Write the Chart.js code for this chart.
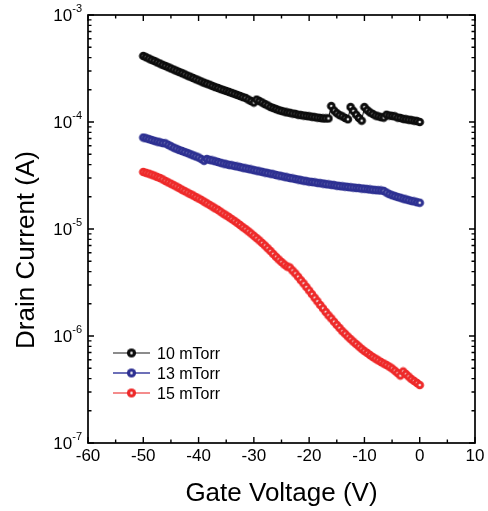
<!DOCTYPE html>
<html>
<head>
<meta charset="utf-8">
<script src="https://cdn.jsdelivr.net/npm/chart.js@4.4.1/dist/chart.umd.min.js"></script>
<style>
  html, body { margin: 0; padding: 0; background: #fff; }
  #wrap { width: 488px; height: 511px; }
</style>
</head>
<body>
<div id="wrap"><canvas id="chart" width="488" height="511"></canvas></div>
<script>
// gate sweep (V)
const gateVoltage = [
  -50, -49.5, -49, -48.5, -48, -47.5, -47, -46.5, -46, -45.5, -45, -44.5, -44, -43.5, -43, -42.5, -42, -41.5, -41, -40.5, -40,
  -39.5, -39, -38.5, -38, -37.5, -37, -36.5, -36, -35.5, -35, -34.5, -34, -33.5, -33, -32.5, -32, -31.5, -31, -30.5, -30,
  -29.5, -29, -28.5, -28, -27.5, -27, -26.5, -26, -25.5, -25, -24.5, -24, -23.5, -23, -22.5, -22, -21.5, -21, -20.5, -20,
  -19.5, -19, -18.5, -18, -17.5, -17, -16.5, -16, -15.5, -15, -14.5, -14, -13.5, -13, -12.5, -12, -11.5, -11, -10.5, -10,
  -9.5, -9, -8.5, -8, -7.5, -7, -6.5, -6, -5.5, -5, -4.5, -4, -3.5, -3, -2.5, -2, -1.5, -1, -0.5, 0
];

// drain current (A)
const current10 = [
  4.14e-4, 4.03e-4, 3.92e-4, 3.81e-4, 3.72e-4, 3.61e-4, 3.52e-4, 3.42e-4, 3.34e-4, 3.25e-4, 3.17e-4, 3.09e-4, 3.01e-4, 2.93e-4, 2.86e-4, 2.79e-4, 2.71e-4, 2.65e-4, 2.58e-4, 2.51e-4, 2.45e-4,
  2.39e-4, 2.33e-4, 2.28e-4, 2.23e-4, 2.17e-4, 2.12e-4, 2.08e-4, 2.03e-4, 1.99e-4, 1.95e-4, 1.91e-4, 1.87e-4, 1.83e-4, 1.79e-4, 1.75e-4, 1.71e-4, 1.68e-4, 1.62e-4, 1.57e-4, 1.52e-4,
  1.62e-4, 1.57e-4, 1.52e-4, 1.47e-4, 1.43e-4, 1.38e-4, 1.35e-4, 1.32e-4, 1.29e-4, 1.27e-4, 1.25e-4, 1.23e-4, 1.22e-4, 1.20e-4, 1.19e-4, 1.17e-4, 1.16e-4, 1.15e-4, 1.14e-4, 1.13e-4,
  1.12e-4, 1.11e-4, 1.10e-4, 1.09e-4, 1.08e-4, 1.08e-4, 1.08e-4, 1.41e-4, 1.28e-4, 1.21e-4, 1.16e-4, 1.13e-4, 1.09e-4, 1.06e-4, 1.38e-4, 1.27e-4, 1.17e-4, 1.09e-4, 1.03e-4, 1.38e-4,
  1.29e-4, 1.23e-4, 1.19e-4, 1.15e-4, 1.13e-4, 1.11e-4, 1.10e-4, 1.17e-4, 1.15e-4, 1.14e-4, 1.13e-4, 1.10e-4, 1.09e-4, 1.07e-4, 1.06e-4, 1.05e-4, 1.04e-4, 1.03e-4, 1.02e-4, 1.00e-4
];
const current13 = [
  7.16e-5, 7.04e-5, 6.92e-5, 6.79e-5, 6.67e-5, 6.56e-5, 6.46e-5, 6.36e-5, 6.32e-5, 6.12e-5, 5.94e-5, 5.76e-5, 5.62e-5, 5.47e-5, 5.36e-5, 5.24e-5, 5.13e-5, 5.00e-5, 4.88e-5, 4.77e-5, 4.66e-5,
  4.51e-5, 4.34e-5, 4.51e-5, 4.43e-5, 4.37e-5, 4.30e-5, 4.23e-5, 4.16e-5, 4.09e-5, 4.03e-5, 3.98e-5, 3.94e-5, 3.89e-5, 3.84e-5, 3.79e-5, 3.74e-5, 3.69e-5, 3.65e-5, 3.60e-5, 3.55e-5,
  3.51e-5, 3.46e-5, 3.42e-5, 3.37e-5, 3.33e-5, 3.29e-5, 3.25e-5, 3.20e-5, 3.16e-5, 3.12e-5, 3.08e-5, 3.04e-5, 3.00e-5, 2.97e-5, 2.93e-5, 2.90e-5, 2.86e-5, 2.83e-5, 2.80e-5, 2.77e-5,
  2.75e-5, 2.73e-5, 2.70e-5, 2.68e-5, 2.66e-5, 2.63e-5, 2.61e-5, 2.59e-5, 2.57e-5, 2.54e-5, 2.52e-5, 2.50e-5, 2.49e-5, 2.47e-5, 2.45e-5, 2.44e-5, 2.42e-5, 2.41e-5, 2.39e-5, 2.38e-5,
  2.36e-5, 2.34e-5, 2.33e-5, 2.31e-5, 2.30e-5, 2.29e-5, 2.27e-5, 2.19e-5, 2.12e-5, 2.07e-5, 2.03e-5, 1.99e-5, 1.96e-5, 1.92e-5, 1.89e-5, 1.86e-5, 1.83e-5, 1.81e-5, 1.78e-5, 1.76e-5
];
const current15 = [
  3.41e-5, 3.35e-5, 3.29e-5, 3.22e-5, 3.15e-5, 3.07e-5, 3.00e-5, 2.91e-5, 2.81e-5, 2.73e-5, 2.65e-5, 2.57e-5, 2.49e-5, 2.41e-5, 2.33e-5, 2.26e-5, 2.19e-5, 2.12e-5, 2.06e-5, 1.99e-5, 1.93e-5,
  1.87e-5, 1.80e-5, 1.74e-5, 1.68e-5, 1.62e-5, 1.56e-5, 1.51e-5, 1.45e-5, 1.39e-5, 1.34e-5, 1.29e-5, 1.24e-5, 1.19e-5, 1.14e-5, 1.09e-5, 1.04e-5, 9.98e-6, 9.52e-6, 9.08e-6, 8.64e-6,
  8.22e-6, 7.81e-6, 7.40e-6, 7.01e-6, 6.61e-6, 6.23e-6, 5.85e-6, 5.50e-6, 5.19e-6, 4.92e-6, 4.66e-6, 4.46e-6, 4.37e-6, 4.09e-6, 3.84e-6, 3.58e-6, 3.32e-6, 3.10e-6, 2.87e-6, 2.66e-6,
  2.46e-6, 2.28e-6, 2.11e-6, 1.95e-6, 1.81e-6, 1.68e-6, 1.56e-6, 1.46e-6, 1.36e-6, 1.27e-6, 1.19e-6, 1.11e-6, 1.05e-6, 9.89e-7, 9.36e-7, 8.85e-7, 8.40e-7, 7.98e-7, 7.59e-7, 7.24e-7,
  6.94e-7, 6.64e-7, 6.38e-7, 6.14e-7, 5.92e-7, 5.71e-7, 5.53e-7, 5.36e-7, 5.17e-7, 4.97e-7, 4.74e-7, 4.51e-7, 4.27e-7, 4.66e-7, 4.41e-7, 4.18e-7, 3.96e-7, 3.80e-7, 3.64e-7, 3.48e-7
];

const seriesNames = ["10 mTorr", "13 mTorr", "15 mTorr"];
const xTicks = [-60, -50, -40, -30, -20, -10, 0, 10];
const yTickExps = [-3, -4, -5, -6, -7];

const FONT = "'Liberation Sans', Arial, sans-serif";

// little shaded ball like the origin markers
function sphere(color, r) {
  const c = document.createElement("canvas");
  const s = Math.ceil(r * 2) + 1;
  c.width = c.height = s;
  const g = c.getContext("2d");
  const m = s / 2;
  const grad = g.createRadialGradient(m, m, 0, m, m, r);
  grad.addColorStop(0, "#ffffff");
  grad.addColorStop(0.16, "#eeeeee");
  grad.addColorStop(0.4, color);
  grad.addColorStop(1, color);
  g.fillStyle = grad;
  g.beginPath();
  g.arc(m, m, r, 0, Math.PI * 2);
  g.fill();
  return c;
}

const markerColors = ["#0d0d0d", "#2e3192", "#ee2a2a"];
const lineColors = ["#666666", "#3c40a0", "#f06666"];
const seriesValues = [current10, current13, current15];

const datasets = seriesValues.map((vals, i) => ({
  label: seriesNames[i],
  data: gateVoltage.map((v, k) => ({ x: v, y: vals[k] })),
  showLine: true,
  borderColor: markerColors[i],
  borderWidth: 1,
  pointStyle: sphere(markerColors[i], 4.3),
  pointRadius: 4.3,
  clip: false
}));

const axesPlugin = {
  id: "axesPlugin",
  afterDraw(chart) {
    const { ctx, chartArea: a, scales: { x, y } } = chart;
    ctx.save();
    ctx.strokeStyle = "#000";
    ctx.fillStyle = "#000";
    ctx.lineWidth = 1.7;
    ctx.strokeRect(a.left, a.top, a.right - a.left, a.bottom - a.top);

    ctx.lineWidth = 1.4;
    ctx.beginPath();
    // x ticks, inward, top and bottom
    xTicks.forEach((t, i) => {
      const px = x.getPixelForValue(t);
      ctx.moveTo(px, a.bottom); ctx.lineTo(px, a.bottom - 6);
      ctx.moveTo(px, a.top); ctx.lineTo(px, a.top + 6);
      if (i < xTicks.length - 1) {
        const mx = x.getPixelForValue((t + xTicks[i + 1]) / 2);
        ctx.moveTo(mx, a.bottom); ctx.lineTo(mx, a.bottom - 3.5);
        ctx.moveTo(mx, a.top); ctx.lineTo(mx, a.top + 3.5);
      }
    });
    // y ticks, inward, left and right
    yTickExps.forEach((e) => {
      const py = y.getPixelForValue(Math.pow(10, e));
      ctx.moveTo(a.left, py); ctx.lineTo(a.left + 6, py);
      ctx.moveTo(a.right, py); ctx.lineTo(a.right - 6, py);
      if (e > -7) {
        for (let k = 2; k <= 9; k++) {
          const my = y.getPixelForValue(k * Math.pow(10, e - 1));
          ctx.moveTo(a.left, my); ctx.lineTo(a.left + 3.5, my);
          ctx.moveTo(a.right, my); ctx.lineTo(a.right - 3.5, my);
        }
      }
    });
    ctx.stroke();

    // x tick labels
    ctx.font = "17px " + FONT;
    ctx.textAlign = "center";
    ctx.textBaseline = "alphabetic";
    xTicks.forEach((t) => {
      ctx.fillText(String(t), x.getPixelForValue(t), a.bottom + 18);
    });

    // y tick labels 10^n
    yTickExps.forEach((e) => {
      const py = y.getPixelForValue(Math.pow(10, e));
      ctx.font = "11px " + FONT;
      ctx.textAlign = "right";
      const sup = String(e);
      const sw = ctx.measureText(sup).width;
      const right = a.left - 6;
      ctx.fillText(sup, right, py - 3);
      ctx.font = "17px " + FONT;
      ctx.fillText("10", right - sw, py + 6);
    });

    // axis titles
    ctx.font = "26px " + FONT;
    ctx.textAlign = "center";
    ctx.fillText("Gate Voltage (V)", (a.left + a.right) / 2, 501);
    ctx.save();
    ctx.translate(34, 250);
    ctx.rotate(-Math.PI / 2);
    ctx.fillText("Drain Current (A)", 0, 0);
    ctx.restore();

    // legend
    ctx.font = "16px " + FONT;
    ctx.textAlign = "left";
    seriesNames.forEach((name, i) => {
      const ly = 353 + i * 20;
      ctx.strokeStyle = lineColors[i];
      ctx.lineWidth = 1.5;
      ctx.beginPath();
      ctx.moveTo(113, ly); ctx.lineTo(150, ly);
      ctx.stroke();
      const img = sphere(markerColors[i], 4.6);
      ctx.drawImage(img, 131.5 - img.width / 2, ly - img.height / 2);
      ctx.fillStyle = "#000";
      ctx.fillText(name, 157, ly + 6);
    });
    ctx.restore();
  }
};

new Chart(document.getElementById("chart"), {
  type: "scatter",
  data: { datasets },
  options: {
    responsive: false,
    animation: false,
    devicePixelRatio: 1,
    layout: { padding: { left: 88, right: 13, top: 15, bottom: 68 } },
    scales: {
      x: { type: "linear", min: -60, max: 10, display: false },
      y: { type: "logarithmic", min: 1e-7, max: 1e-3, display: false }
    },
    plugins: { legend: { display: false }, tooltip: { enabled: false } }
  },
  plugins: [axesPlugin]
});
</script>
</body>
</html>
